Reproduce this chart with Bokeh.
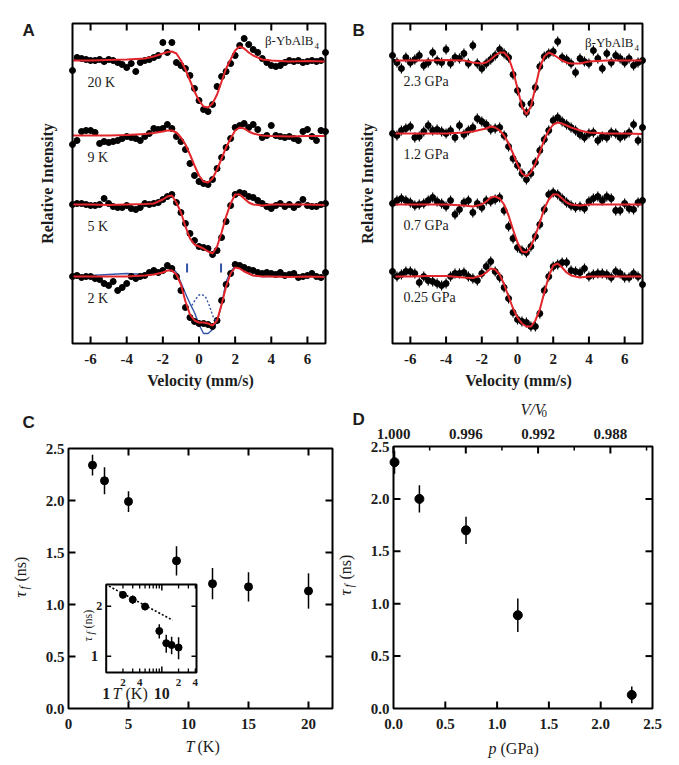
from math import pi
import numpy as np
from bokeh.plotting import figure
from bokeh.layouts import column, row
from bokeh.models import Range1d, Label, Grid
from bokeh.core.properties import value
from bokeh.embed import file_html
from bokeh.resources import INLINE

# ---------------- data ----------------
velocity = [-7.0, -6.75, -6.5, -6.25, -6.0, -5.75, -5.5, -5.25, -5.0, -4.75, -4.5, -4.25, -4.0, -3.75,
            -3.5, -3.25, -3.0, -2.75, -2.5, -2.25, -2.0, -1.75, -1.5, -1.25, -1.0, -0.75, -0.5, -0.25,
            0.0, 0.25, 0.5, 0.75, 1.0, 1.25, 1.5, 1.75, 2.0, 2.25, 2.5, 2.75, 3.0, 3.25, 3.5, 3.75,
            4.0, 4.25, 4.5, 4.75, 5.0, 5.25, 5.5, 5.75, 6.0, 6.25, 6.5, 6.75, 7.0]
fit_velocity = [-7, -6, -5, -4, -3, -2.5, -2, -1.75, -1.5, -1.25, -1, -0.75, -0.5, -0.25, 0, 0.25,
                0.5, 0.75, 1, 1.25, 1.5, 1.75, 2, 2.25, 2.5, 2.75, 3, 3.5, 4, 5, 6, 7]

# panel A (temperature series): change of relative intensity
spec_20K = [-10, 3, 2, 1, 0, 0, 1, -1, 1, 0, -2, -4, -7, -3, -11, -2, 0, 1, 3, 5, 18, 8, 18, -2, -5, -8,
            -15, -28, -40, -49, -51, -44, -26, -16, -11, -3, 5, 15, 22, 16, 11, 8, 2, -2, -5, -6, -5,
            -2, 0, -1, 0, -2, -1, 0, -1, 0, 8]
spec_9K = [-9, -5, 4, 5, 5, 3, -8, -6, -7, -6, -5, -3, -1, -2, -3, -5, -1, 2, 7, 6, 7, 11, 7, -1, -6,
           -14, -28, -40, -46, -48, -49, -44, -33, -22, -12, -3, 8, 10, 12, 8, 11, 6, -2, 0, 10, 0, -1,
           -2, -1, -3, -5, 4, 6, -1, -5, 5, 4]
spec_5K = [0, 1, 1, 0, -1, -1, 0, 6, 1, -2, -3, -3, -1, -4, -5, -3, 1, 0, 1, 2, 5, 8, 10, 2, -8, -19,
           -29, -36, -42, -43, -44, -50, -46, -33, -17, -1, 10, 12, 11, 8, 7, 4, 1, -2, -4, -1, 1, -2,
           0, -3, 0, 5, -1, -2, -2, 0, 1]
spec_2K = [0, 1, -1, 0, 0, -2, -3, -7, -9, -5, -14, -11, -7, 0, -2, 0, 1, 4, 6, 4, 6, 11, 8, 0, -14,
           -31, -41, -45, -47, -47, -48, -50, -44, -24, -8, 3, 12, 11, 9, 7, 6, 4, 3, 4, 3, 2, 4, 1, 2,
           3, -1, 0, 1, 3, 0, -1, 4]
fit_20K = [0, 0, 0.5, 1, 2, 4, 7, 8.5, 9, 7, 0, -9, -20, -31, -40, -46, -47, -43, -34, -21, -8, 1, 10,
           14, 12, 8, 5, 1, 0, -1, -0.5, -1]
fit_9K = [0, 0, 0, 0.5, 1.5, 2.5, 4, 5, 5, 3, -2, -9, -19, -30, -40, -46, -47, -43, -34, -23, -12, -3,
          5, 8, 7, 4, 2, 0, -0.5, -1, -0.5, -0.5]
fit_5K = [0, 0, -0.5, 0, 0.5, 1, 5, 8, 9, 2, -8, -22, -34, -40, -42, -44, -47, -49, -42, -28, -12, 1,
          10, 10, 6, 2, 0, -1, 0, 0, 0, -0.5]
fit_2K = [0, 0, 0, 0, 1, 2, 4, 6, 6, 2, -8, -25, -38, -44, -46, -46, -47, -49, -44, -28, -10, 3, 9, 8,
          5, 3, 1, 0, 0, -0.5, 0, -0.5]
model_2K = [0, 1, 2, 3, 2, 3, 6, 9, 9, 4, -6, -17, -27, -36, -48, -57, -57, -53, -45, -28, -5, 5, 10,
            10, 6, 3, 1, 0, 0, 0, 0, 0]
model_2K_dotted_v = [-0.4, -0.2, 0.0, 0.15, 0.35, 0.55, 0.8, 1.0]
model_2K_dotted = [-29, -23, -18.5, -18, -20, -28, -41, -46]
doublet_v = [-0.66, 1.22]
temp_names = ["20 K", "9 K", "5 K", "2 K"]

# panel B (pressure series)
spec_23 = [5, -2, -8, 3, -2, 1, 5, -5, -2, 8, 0, -2, 11, -3, 3, 2, 7, -3, 15, -3, -8, -3, 1, 5, 11, 7,
           3, -14, -30, -44, -52, -43, -27, -6, 4, 7, 9, 19, 3, 1, -3, -12, 2, -1, -3, 10, 2, -8, 7,
           -2, 5, 2, -2, 2, -5, -2, 0]
spec_12 = [0, -2, 3, 5, 7, -4, -3, 2, 8, 3, 4, 2, 0, 3, -4, 8, -1, 3, 6, 15, 12, 9, 4, 5, 6, -2, -13,
           -25, -32, -40, -46, -40, -29, -17, -6, 3, 13, 16, 12, 9, 6, 3, -1, -4, 0, 1, -7, -3, -4, 1,
           0, -4, -2, 1, 9, -7, 6]
spec_07 = [1, 4, 6, 4, 2, -1, 0, 1, 4, 7, 3, 1, -2, 4, -10, -5, 2, 4, -8, 1, -3, 4, 3, 5, 7, -6, -22,
           -34, -43, -46, -48, -42, -32, -20, -5, 10, 12, 10, 6, 2, -1, -3, -2, -4, 3, 6, 8, 4, 8, 6,
           -6, -6, 1, -4, -5, 2, 4]
spec_025 = [5, 0, 2, 5, 5, 3, -6, 0, -4, -5, -7, -9, -7, 0, 3, 3, 4, 0, -2, -4, 3, 10, 15, 5, -1, -11,
            -22, -36, -43, -45, -46, -50, -50, -37, -14, 0, 10, 12, 14, 14, 6, 5, 4, 8, 0, 2, 3, 3, 2,
            -1, 5, 3, -1, -1, 3, 0, -8]
fit_23 = [0, 0, 0, 0.5, 0, -2, -3, -2, 1, 5, 8, 8, 3, -10, -28, -46, -54, -46, -27, -7, 4, 8, 6, 3, 0,
          -2, -3, -3, -1, 0, 0, 0]
fit_12 = [0, 0, 0, 0, 1, 2, 4, 5, 7, 6, 3, -2, -10, -20, -31, -40, -43, -39, -30, -19, -6, 3, 9, 11,
          10, 8, 6, 3, 1, 0, 0, -0.5]
fit_07 = [0, 0, 0, 0, -1, -2, 0, 3, 7, 8, 6, 0, -11, -25, -38, -47, -48, -42, -31, -18, -4, 5, 10, 10,
          6, 2, 0, -1, 0, 0, 0, 0]
fit_025 = [0, 0, 0.5, 0.5, -1, -1.5, 1, 4, 8, 7, 2, -8, -20, -32, -41, -47, -50, -50, -44, -33, -16,
           0, 11, 13, 9, 4, 1, -1, 0, 0, 0, 0]
press_names = ["2.3 GPa", "1.2 GPa", "0.7 GPa", "0.25 GPa"]

vel_ticks = [-6, -4, -2, 0, 2, 4, 6]
vel_tick_labels = ["-6", "-4", "-2", "0", "2", "4", "6"]

# panel C
T_K = [2, 3, 5, 9, 12, 15, 20]
tau_T = [2.34, 2.19, 1.99, 1.42, 1.20, 1.17, 1.13]
tau_T_err = [0.10, 0.13, 0.10, 0.14, 0.15, 0.14, 0.17]
inset_fit_T = [1.12, 15.6]
inset_fit_tau = [2.64, 1.65]
T_ticks = [0, 5, 10, 15, 20]
T_tick_labels = ["0", "5", "10", "15", "20"]
tau_ticks = [0, 0.5, 1.0, 1.5, 2.0, 2.5]
tau_tick_labels = ["0.0", "0.5", "1.0", "1.5", "2.0", "2.5"]
inset_minor_T = [2, 3, 4, 5, 6, 7, 8, 9, 20, 30, 40]
inset_major_T = [10]
inset_tau_ticks = [1, 2]
inset_small_T = [2, 4, 20, 40]
inset_small_labels = ["2", "4", "2", "4"]
inset_decade_T = [1, 10]
inset_decade_labels = ["1", "10"]

# panel D
p_GPa = [0.01, 0.25, 0.70, 1.20, 2.30]
tau_p = [2.35, 2.00, 1.70, 0.89, 0.13]
tau_p_err = [0.11, 0.13, 0.13, 0.16, 0.08]
p_ticks = [0, 0.5, 1.0, 1.5, 2.0, 2.5]
p_tick_labels = ["0.0", "0.5", "1.0", "1.5", "2.0", "2.5"]
vol_ticks = [1.000, 0.996, 0.992, 0.988]
vol_tick_labels = ["1.000", "0.996", "0.992", "0.988"]
vol_minor = [0.998, 0.994, 0.990, 0.986]

# ---------------- style ----------------
SERIF = "Liberation Serif"
SANS = "Liberation Sans"
INK = "#1c1c1c"
RED = "#e3262b"
BLUE = "#3352a8"


class Box:
    """A plotting box inside a glyph API, with ticks drawn inward."""

    def __init__(self, g, x0, x1, y0, y1, xs, ys):
        self.g, self.x0, self.x1, self.y0, self.y1, self.xs, self.ys = g, x0, x1, y0, y1, xs, ys

    def frame(self, fill=None, lw=2):
        self.g.quad(left=[self.x0], right=[self.x1], bottom=[self.y0], top=[self.y1],
                    fill_color=fill, line_color="black", line_width=lw)

    def ticks(self, side, pos, length=7, width=2):
        pos = np.array(pos, dtype=float)
        kw = dict(line_color="black", line_width=width)
        if side == "bottom":
            self.g.segment(pos, self.y0, pos, self.y0 + length * self.ys, **kw)
        elif side == "top":
            self.g.segment(pos, self.y1, pos, self.y1 - length * self.ys, **kw)
        elif side == "left":
            self.g.segment(self.x0, pos, self.x0 + length * self.xs, pos, **kw)
        else:
            self.g.segment(self.x1, pos, self.x1 - length * self.xs, pos, **kw)

    def tick_labels(self, side, pos, labels, offset, size=15, style="bold"):
        n = len(pos)
        kw = dict(text=labels, text_font=value(SERIF), text_font_style=style,
                  text_font_size=f"{size}px", text_color=INK, text_baseline="middle")
        if side == "bottom":
            self.g.text(x=pos, y=[self.y0] * n, y_offset=offset, text_align="center", **kw)
        elif side == "top":
            self.g.text(x=pos, y=[self.y1] * n, y_offset=-offset, text_align="center", **kw)
        else:
            self.g.text(x=[self.x0] * n, y=pos, x_offset=-offset, text_align="right", **kw)


def make_panel(W, H, box, xdom, ydom):
    bx0, by0, bx1, by1 = box
    xd0, xd1 = xdom
    yd0, yd1 = ydom
    xs = (xd1 - xd0) / (bx1 - bx0)
    ys = (yd1 - yd0) / (by1 - by0)
    p = figure(width=W, height=H,
               x_range=Range1d(xd0 - bx0 * xs, xd1 + (W - bx1) * xs),
               y_range=Range1d(yd0 - (H - by1) * ys, yd1 + by0 * ys),
               min_border=0, x_axis_location=None, y_axis_location=None,
               output_backend="svg", toolbar_location=None)
    for r in p.select(type=Grid):
        r.visible = False
    p.outline_line_color = None
    p.background_fill_color = "white"
    p.border_fill_color = "white"
    return p, Box(p, xd0, xd1, yd0, yd1, xs, ys)


def txt(p, cx, cy, text, size, style="normal", font=SERIF, align="left", angle=0,
        baseline="middle", color=INK):
    """Text at a canvas pixel position (from the top-left of the figure)."""
    p.add_layout(Label(x=cx, y=p.height - cy, x_units="screen", y_units="screen", text=text,
                       angle=angle, text_font=font, text_font_size=f"{size}px",
                       text_font_style=style, text_align=align, text_baseline=baseline,
                       text_color=color))


def tau_title(p, cx, cy_start, big, small, sub_shift, gap1, gap2):
    txt(p, cx, cy_start, "τ", big, "italic", angle=pi / 2)
    txt(p, cx + sub_shift, cy_start - gap1, "f", small, "italic", angle=pi / 2)
    txt(p, cx, cy_start - gap1 - gap2, "(ns)", big - 1, angle=pi / 2)


def spectrum_panel(W, box, specs, fits, names, baselines, err, label_x, label_dy, letter,
                   letter_x, ylab_x, vel_x, beta_right, beta_y, baseline_ticks):
    p, b = make_panel(W, 400, box, (-7, 7), (0, 320))
    v = np.array(velocity)
    for d, f, name, base in zip(specs, fits, names, baselines):
        y = base + np.array(d, dtype=float)
        p.segment(v, y - err, v, y + err, line_color="black", line_width=1.2)
        p.scatter(v, y, size=6, color="black")
        p.line(fit_velocity, base + np.array(f, dtype=float), line_color=RED, line_width=2)
        p.add_layout(Label(x=label_x, y=base - label_dy, text=name, text_font=SERIF,
                           text_font_size="14px", text_color=INK, text_baseline="middle"))
    b.frame()
    b.ticks("bottom", vel_ticks)
    b.ticks("top", vel_ticks)
    if baseline_ticks:
        b.ticks("left", baselines, length=3, width=3)
    b.tick_labels("bottom", vel_ticks, vel_tick_labels, 15)
    txt(p, vel_x, 380, "Velocity (mm/s)", 16, "bold", align="center")
    txt(p, ylab_x, 183, "Relative Intensity", 16, "bold", align="center", angle=pi / 2)
    txt(p, beta_right, beta_y, "β-YbAlB", 13, align="right")
    txt(p, beta_right + 1, beta_y + 5, "4", 9)
    txt(p, letter_x, 30, letter, 17, "bold", SANS)
    return p


# ---------------- panel A ----------------
A_base = [283, 208, 139, 67]
pA = spectrum_panel(340, (72, 23, 325, 343), [spec_20K, spec_9K, spec_5K, spec_2K],
                    [fit_20K, fit_9K, fit_5K, fit_2K], temp_names, A_base, 3, -6.17, 22, "A", 22,
                    47, 200, 313, 40, False)
b2 = A_base[3]
pA.line(fit_velocity, b2 + np.array(model_2K, dtype=float), line_color=BLUE, line_width=1.4,
        level="underlay")
pA.line(model_2K_dotted_v, b2 + np.array(model_2K_dotted, dtype=float), line_color=BLUE,
        line_width=1.4, line_dash="2 2")
pA.segment(doublet_v, [b2 + 4] * 2, doublet_v, [b2 + 13] * 2, line_color=BLUE, line_width=2)

# ---------------- panel B ----------------
B_base = [283, 210, 139, 67]
pB = spectrum_panel(339, (52, 23, 302, 343), [spec_23, spec_12, spec_07, spec_025],
                    [fit_23, fit_12, fit_07, fit_025], press_names, B_base, 5, -6.38, 21, "B", 12,
                    27, 178, 293, 42, True)

# ---------------- panel C ----------------
pC, bC = make_panel(336, 365, (68, 48, 332, 308), (0, 22), (0, 2.5))
tT = np.array(tau_T)
eT = np.array(tau_T_err)
pC.segment(T_K, tT - eT, T_K, tT + eT, line_color="black", line_width=1.5)
pC.scatter(T_K, tau_T, size=8, color="black")
bC.frame()
bC.ticks("bottom", T_ticks[1:])
bC.ticks("top", T_ticks[1:])
bC.ticks("left", tau_ticks[1:-1])
bC.ticks("right", tau_ticks[1:-1])
bC.tick_labels("bottom", T_ticks, T_tick_labels, 15)
bC.tick_labels("left", tau_ticks, tau_tick_labels, 4)
txt(pC, 185, 346, "T", 16, "italic")
txt(pC, 197, 346, "(K)", 16)
tau_title(pC, 20, 197, 17, 12, 3, 8, 8)
txt(pC, 22, 22, "C", 17, "bold", SANS)

# inset: log-log axes, drawn in decades inside panel C
lx0, lx1 = np.log10(1.0), np.log10(42.0)
ly0, ly1 = np.log10(0.8), np.log10(2.7)
inset = pC.subplot(x_source=Range1d(lx0, lx1), y_source=Range1d(ly0, ly1),
                   x_target=Range1d(3.142, 10.667), y_target=Range1d(0.3462, 1.1923))
bI = Box(inset, lx0, lx1, ly0, ly1, (lx1 - lx0) / 90.3, (ly1 - ly0) / 88.0)
bI.frame(fill="white")
bI.ticks("bottom", np.log10(inset_minor_T), length=4, width=1.3)
bI.ticks("top", np.log10(inset_minor_T), length=4, width=1.3)
bI.ticks("bottom", np.log10(inset_major_T), length=6, width=1.5)
bI.ticks("top", np.log10(inset_major_T), length=6, width=1.5)
bI.ticks("left", np.log10(inset_tau_ticks), length=5, width=1.5)
bI.ticks("right", np.log10(inset_tau_ticks), length=5, width=1.5)
inset.line(np.log10(inset_fit_T), np.log10(inset_fit_tau), line_color="black", line_width=1.6,
           line_dash="2 2")
lT = np.log10(T_K)
inset.segment(lT, np.log10(tT - eT), lT, np.log10(tT + eT), line_color="black", line_width=1.5)
inset.scatter(lT, np.log10(tau_T), size=7, color="black")
bI.tick_labels("bottom", np.log10(inset_small_T), inset_small_labels, 10, size=11)
bI.tick_labels("bottom", np.log10(inset_decade_T), inset_decade_labels, 21, size=16)
bI.tick_labels("left", np.log10([2]), ["2"], 4, size=12)
bI.tick_labels("left", np.log10([1]), ["1"], 8, size=15)
txt(pC, 112, 293, "T", 16, "italic")
txt(pC, 125, 293, "(K)", 16)
tau_title(pC, 87, 241, 13, 10, 3, 7, 6)

# ---------------- panel D ----------------
pD, bD = make_panel(343, 365, (57, 46, 316, 308), (0, 2.5), (0, 2.5))
tP = np.array(tau_p)
eP = np.array(tau_p_err)
pD.segment(p_GPa, tP - eP, p_GPa, tP + eP, line_color="black", line_width=1.5)
pD.scatter(p_GPa, tau_p, size=9, color="black")
bD.frame()
bD.ticks("bottom", p_ticks[1:-1])
bD.ticks("left", tau_ticks[1:-1])
bD.ticks("right", tau_ticks[1:-1])
bD.tick_labels("bottom", p_ticks, p_tick_labels, 15)
bD.tick_labels("left", tau_ticks, tau_tick_labels, 4)
# top axis: relative volume V/V0, a second linear scale over the pressure box
vol = pD.subplot(x_source=Range1d(1.0, 0.98567), y_source=Range1d(0, 2.5),
                 x_target=Range1d(0, 2.5), y_target=Range1d(0, 2.5))
bV = Box(vol, 1.0, 0.98567, 0, 2.5, (0.98567 - 1.0) / 259.0, bD.ys)
bV.ticks("top", vol_ticks, length=7)
bV.ticks("top", vol_minor, length=4, width=1.5)
bV.tick_labels("top", vol_ticks, vol_tick_labels, 13)
txt(pD, 184, 9, "V/V", 16, "italic")
txt(pD, 205, 13, "0", 11)
txt(pD, 152, 348, "p", 16, "italic")
txt(pD, 164, 348, "(GPa)", 16)
tau_title(pD, 9, 195, 17, 12, 3, 8, 8)
txt(pD, 16, 19, "D", 17, "bold", SANS)

layout = column(row(pA, pB), row(pC, pD))
open("out.html", "w").write(file_html(layout, INLINE, title="beta-YbAlB4"))
